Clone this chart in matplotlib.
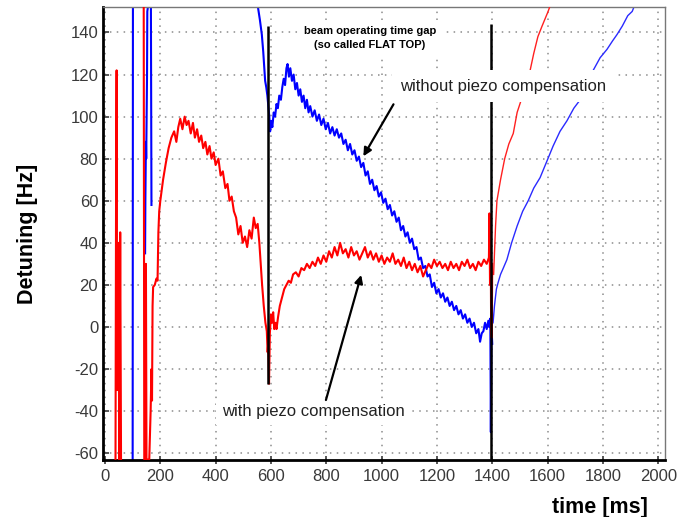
import numpy as np
import matplotlib
matplotlib.use('Agg')
import matplotlib.pyplot as plt

plt.rcParams['font.family'] = ['Liberation Sans', 'DejaVu Sans']
plt.rcParams['axes.unicode_minus'] = False

nan = np.nan

# detuning with piezo compensation (red), ms / Hz, nan = break
red_t = [38, 40, 42, 44, 48, 52, 55, 58, nan,
         140, 142, nan,
         146, 148, 150, 160, 165, 168, 170, 172, 174, 180, 186, 190, 193, 196,
         200, 210, 220, 230, 240, 250, 258, 265, 272, 280, 288, 295, 302, 310,
         318, 325, 333, 340, 348, 355, 363, 370, 378, 385, 393, 400, 410, 418,
         426, 435, 443, 450, 458, 466, 474, 482, 490, 498, 506, 514, 522, 530,
         538, 545, 552, 558, 563, 568, 574, 580, 585, 588, 590, 593, 596, 600,
         604, 608, 612, 616, 620, 626, 632, 640, 648, 656, 664, 672, 680, 690,
         700, 710, 720, 730, 740, 750, 760, 770, 780, 790, 800, 810, 820, 830,
         840, 850, 860, 870, 880, 890, 900, 910, 920, 930, 940, 950, 960, 970,
         980, 990, 1000, 1010, 1020, 1030, 1040, 1050, 1060, 1070, 1080, 1090,
         1100, 1110, 1120, 1130, 1140, 1150, 1160, 1170, 1180, 1190, 1200, 1210,
         1220, 1230, 1240, 1250, 1260, 1270, 1280, 1290, 1300, 1310, 1320, 1330,
         1340, 1350, 1360, 1370, 1380, 1388, 1390, 1392, 1394, 1396, 1398, 1400]
red_hz = [-63, 60, 122, -30, 40, -63, 45, -63, nan,
          152, -63, nan,
          -63, 30, -63, -63, -40, -20, -35, 10, 19, 20, 23, 22, 45, 55,
          60, 70, 78, 85, 90, 93, 88, 95, 99, 94, 100, 96, 98, 92,
          97, 90, 94, 88, 91, 85, 88, 82, 86, 80, 83, 77, 80, 72,
          74, 66, 68, 60, 62, 55, 52, 44, 48, 40, 43, 38, 46, 42,
          52, 47, 49, 40, 30, 20, 10, 2, -2, -12, -8, -27, -3, 6,
          2, 7, -1, 2, -1, 5, 10, 14, 18, 20, 22, 21, 25, 26,
          24, 28, 27, 30, 28, 31, 29, 33, 30, 34, 31, 36, 33, 38,
          34, 40, 35, 37, 33, 38, 34, 36, 32, 35, 38, 33, 36, 32,
          35, 31, 34, 30, 33, 31, 35, 30, 32, 29, 33, 28,
          31, 27, 30, 26, 29, 24, 27, 30, 28, 32, 29, 31,
          28, 30, 27, 31, 28, 30, 27, 31, 29, 32, 28, 30,
          27, 31, 29, 32, 30, 33, 54, 20, 50, 0, -5, 30]

red_tail_t = [1405, 1412, 1417, 1430, 1445, 1460, 1476, 1490, 1505, 1520,
              1537, 1550, 1565, 1580, 1602, 1610]
red_tail_hz = [25, 48, 60, 70, 80, 87, 92, 102, 108, 116,
               122, 130, 138, 143, 150, 153]

# detuning without piezo compensation (blue)
blue_t = [100, 101, nan,
          145, 146, 147, 148, 149, 150, 151, 152, 153, 155, nan,
          166, 168, nan,
          553, 560, 567, 572, 576, 579, 583, 587, 591, 594, 597, 601, 605, 610,
          615, 620, 625, 630, 636, 641, 646, 651, 656, 660, 665, 670, 676, 682,
          688, 694, 700, 706, 712, 718, 724, 730, 736, 742, 750, 758, 766, 774,
          782, 790, 798, 806, 814, 822, 830, 838, 846, 854, 862, 870, 878, 886,
          894, 902, 910, 918, 926, 934, 942, 950, 958, 966, 974, 982, 990, 998,
          1006, 1014, 1022, 1030, 1038, 1046, 1054, 1062, 1070, 1078, 1086,
          1094, 1102, 1110, 1118, 1126, 1134, 1142, 1150, 1158, 1166, 1174,
          1182, 1190, 1198, 1206, 1214, 1222, 1230, 1238, 1246, 1254, 1262,
          1270, 1278, 1286, 1294, 1302, 1310, 1318, 1326, 1334, 1342, 1350,
          1356, 1362, 1368, 1374, 1380, 1386, 1390, 1393, 1395, 1397, 1400]
blue_hz = [-63, 152, nan,
           35, 60, 72, 88, 80, 95, 115, 120, 150, 152, nan,
           152, 58, nan,
           152, 146, 139, 131, 123, 117, 114, 110, 104, 100, 93, 98, 95, 102,
           100, 106, 104, 110, 108, 114, 118, 115, 123, 125, 119, 123, 117, 120,
           113, 116, 110, 113, 107, 110, 104, 108, 102, 105, 100, 103, 98, 101,
           96, 99, 94, 97, 92, 95, 91, 94, 90, 92, 87, 89, 84, 87,
           82, 84, 79, 81, 76, 78, 72, 74, 68, 70, 65, 67, 62, 64,
           59, 61, 56, 58, 53, 55, 50, 52, 46, 48, 43,
           45, 40, 42, 37, 38, 32, 33, 28, 29, 24, 25,
           19, 21, 16, 18, 14, 16, 12, 14, 10, 12, 8,
           10, 6, 8, 4, 6, 2, 4, 0, 2, -3, -1,
           -7, -3, -2, 2, -1, 3, 0, 4, -50, 0, -8]

blue_tail_t = [1403, 1408, 1415, 1421, 1430, 1440, 1453, 1470, 1490, 1510,
               1530, 1550, 1573, 1595, 1620, 1645, 1670, 1695, 1718, 1740,
               1765, 1790, 1815, 1835, 1851, 1870, 1890, 1906, 1915]
blue_tail_hz = [2, 10, 18, 21, 25, 28, 32, 40, 48, 55,
                60, 66, 71, 78, 86, 93, 98, 104, 108, 115,
                122, 128, 132, 136, 139, 143, 148, 150, 153]

# flat top markers
gap_t = [590, 1395]
gap_lo = [-27, -63]
gap_hi = [143, 144]

x_ticks = list(range(0, 2001, 200))
y_ticks = list(range(-60, 141, 20))


def main():

    fig = plt.figure(figsize=(6.78, 5.17), dpi=100)
    ax = fig.add_axes([0.152, 0.110, 0.829, 0.876])

    ax.plot(red_t, red_hz, color='#ff0000', lw=1.5, zorder=3)
    ax.plot(red_tail_t, red_tail_hz, color='#ff2020', lw=1.0, zorder=3)
    ax.plot(blue_t, blue_hz, color='#0000ff', lw=1.5, zorder=2)
    ax.plot(blue_tail_t, blue_tail_hz, color='#2a2aff', lw=1.0, zorder=2)

    ax.vlines(gap_t, gap_lo, gap_hi, color='black', lw=1.8, zorder=4)

    ax.set_xlim(-7, 2025)
    ax.set_ylim(-63.3, 152)
    ax.set_xticks(x_ticks)
    ax.set_yticks(y_ticks)
    ax.tick_params(labelsize=12, colors='#3a3a3a', length=4, width=1.2)
    ax.tick_params(axis='y', direction='in')
    ax.tick_params(axis='x', direction='inout', length=6)
    ax.grid(True, color='#8c8c8c', linestyle=(0, (1, 3.5)), lw=1.1)

    for s in ['left', 'bottom']:
        ax.spines[s].set_linewidth(2)
        ax.spines[s].set_color('black')
    for s in ['top', 'right']:
        ax.spines[s].set_linewidth(1)
        ax.spines[s].set_color('#777777')

    ax.set_ylabel('Detuning [Hz]', fontsize=15.5, fontweight='bold', labelpad=23)
    fig.text(648 / 678, 1 - 507 / 517, 'time [ms]', fontsize=15.5,
             fontweight='bold', ha='right', va='center')

    box = dict(facecolor='white', edgecolor='none', pad=4)
    ax.text(958, 137.5, 'beam operating time gap\n(so called FLAT TOP)',
            fontsize=8, fontweight='bold', ha='center', va='center',
            linespacing=1.45, bbox=box, zorder=5)
    ax.text(1067, 114.5, 'without piezo compensation', fontsize=12,
            ha='left', va='center', color='#222222',
            bbox=dict(facecolor='white', edgecolor='none', pad=6), zorder=5)
    ax.text(423, -40.4, 'with piezo compensation', fontsize=12,
            ha='left', va='center', color='#222222',
            bbox=dict(facecolor='white', edgecolor='none', pad=4), zorder=5)

    arrow = dict(arrowstyle='-|>', color='black', lw=1.6, mutation_scale=12)
    ax.annotate('', xy=(929, 80), xytext=(1048, 107), arrowprops=arrow,
                zorder=6)
    ax.annotate('', xy=(929, 26), xytext=(796, -36), arrowprops=arrow,
                zorder=6)

    plt.savefig('out.png', dpi=100)


if __name__ == '__main__':

    main()
